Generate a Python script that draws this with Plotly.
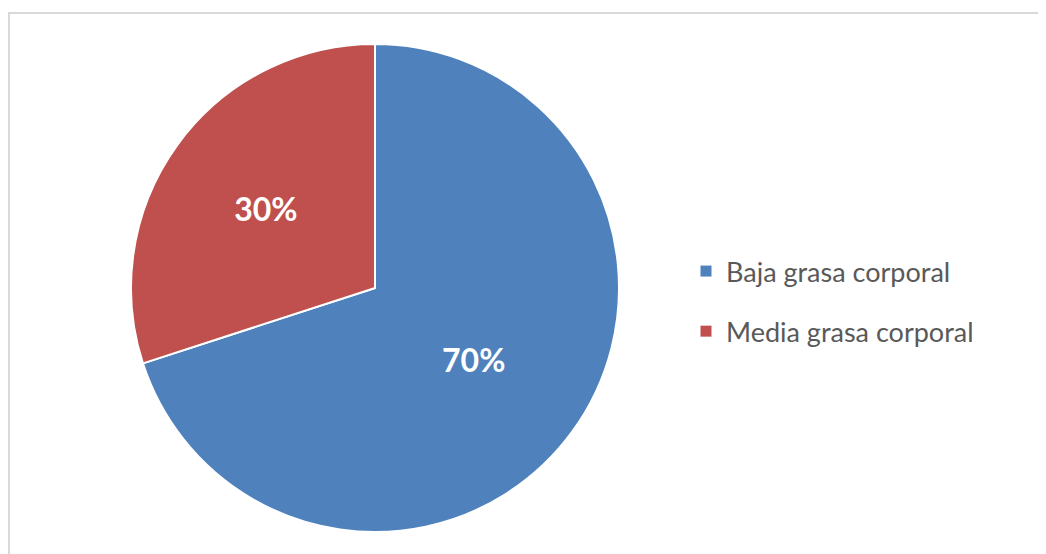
import plotly.graph_objects as go

# Data
labels = ["Baja grasa corporal", "Media grasa corporal"]
values = [70, 30]
colors = ["#4F81BD", "#C0504D"]

# page body adds an 8px margin, so the figure is a bit smaller than the window
W, H = 1038, 546
OFF = 8


def px_x(v):
    return (v - OFF) / W


def px_y(v):
    return 1 - (v - OFF) / H


fig = go.Figure()

# Pie itself (legend drawn with proxy traces to get Excel-like spacing)
fig.add_trace(
    go.Pie(
        labels=labels,
        values=values,
        sort=False,
        direction="clockwise",
        rotation=0,
        marker=dict(colors=colors, line=dict(color="white", width=2)),
        texttemplate="%{percent:.0%}",
        textposition="inside",
        insidetextorientation="horizontal",
        insidetextfont=dict(family="Lato", size=32, color="white", weight="bold"),
        domain=dict(x=[px_x(131), px_x(619)], y=[px_y(532), px_y(44)]),
        showlegend=False,
        hoverinfo="label+percent",
    )
)

# Legend proxies
for i, (lab, col) in enumerate(zip(labels, colors)):
    fig.add_trace(
        go.Scatter(
            x=[None],
            y=[None],
            mode="markers",
            name=lab,
            legendgroup=f"g{i}",
            marker=dict(symbol="square", size=11, color=col),
        )
    )

fig.update_layout(
    width=W,
    height=H,
    margin=dict(l=0, r=0, t=0, b=0),
    paper_bgcolor="white",
    plot_bgcolor="white",
    font=dict(family="Lato", color="#595959"),
    xaxis=dict(visible=False),
    yaxis=dict(visible=False),
    showlegend=True,
    legend=dict(
        x=px_x(686),
        y=px_y(247),
        xanchor="left",
        yanchor="top",
        traceorder="grouped",
        tracegroupgap=22,
        font=dict(family="Lato", size=27, color="#595959"),
        itemsizing="trace",
        bgcolor="rgba(0,0,0,0)",
    ),
    shapes=[
        dict(
            type="rect",
            xref="paper",
            yref="paper",
            x0=px_x(9),
            x1=1.02,
            y0=-0.02,
            y1=px_y(13),
            line=dict(color="#D9D9D9", width=2),
            fillcolor="rgba(0,0,0,0)",
            layer="below",
        )
    ],
)

fig.write_html("out.html")
